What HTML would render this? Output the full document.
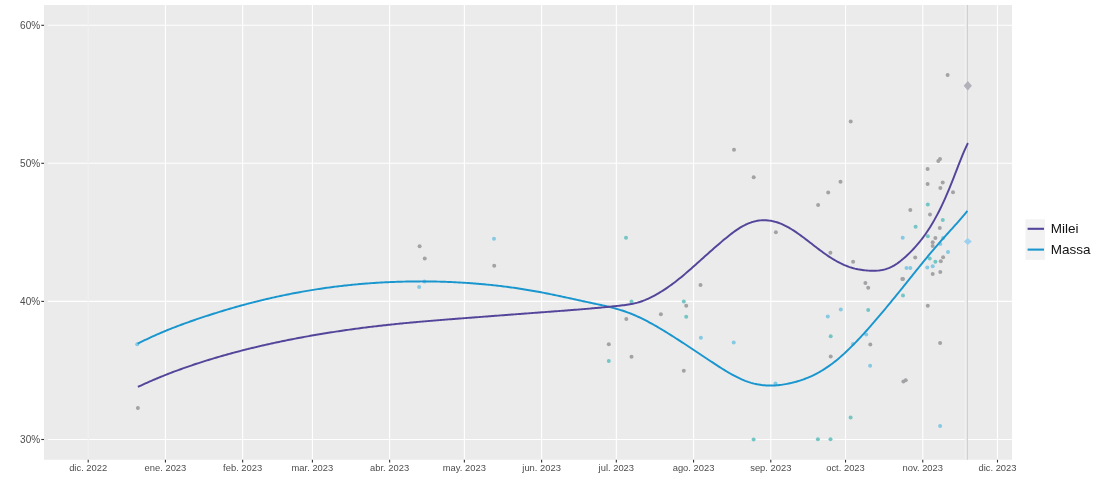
<!DOCTYPE html>
<html><head><meta charset="utf-8"><title>Milei vs Massa</title>
<style>
html,body{margin:0;padding:0;background:#fff;}
body{width:1100px;height:489px;overflow:hidden;}
svg{display:block;}
text{font-family:"Liberation Sans",Arial,sans-serif;}
</style></head><body>
<svg width="1100" height="489" viewBox="0 0 1100 489">
<rect x="0" y="0" width="1100" height="489" fill="#ffffff"/>
<rect x="44.0" y="5.0" width="968.0" height="454.8" fill="#ebebeb"/>
<g stroke="#ffffff" stroke-width="1.1"><line x1="47.8" x2="1012.0" y1="439.5" y2="439.5"/><line x1="47.8" x2="1012.0" y1="301.4" y2="301.4"/><line x1="47.8" x2="1012.0" y1="163.3" y2="163.3"/><line x1="47.8" x2="1012.0" y1="25.3" y2="25.3"/><line x1="165.43" x2="165.43" y1="5.0" y2="459.8"/><line x1="242.65" x2="242.65" y1="5.0" y2="459.8"/><line x1="312.41" x2="312.41" y1="5.0" y2="459.8"/><line x1="389.64" x2="389.64" y1="5.0" y2="459.8"/><line x1="464.37" x2="464.37" y1="5.0" y2="459.8"/><line x1="541.60" x2="541.60" y1="5.0" y2="459.8"/><line x1="616.33" x2="616.33" y1="5.0" y2="459.8"/><line x1="693.56" x2="693.56" y1="5.0" y2="459.8"/><line x1="770.79" x2="770.79" y1="5.0" y2="459.8"/><line x1="845.52" x2="845.52" y1="5.0" y2="459.8"/><line x1="922.75" x2="922.75" y1="5.0" y2="459.8"/><line x1="997.49" x2="997.49" y1="5.0" y2="459.8"/></g>
<line x1="88.2" x2="88.2" y1="5.0" y2="459.8" stroke="#f0f0f0" stroke-width="1.1"/>
<g stroke="#333333" stroke-width="1.1"><line x1="41.3" x2="44.0" y1="439.5" y2="439.5"/><line x1="41.3" x2="44.0" y1="301.4" y2="301.4"/><line x1="41.3" x2="44.0" y1="163.3" y2="163.3"/><line x1="41.3" x2="44.0" y1="25.3" y2="25.3"/><line x1="88.20" x2="88.20" y1="459.8" y2="462.5"/><line x1="165.43" x2="165.43" y1="459.8" y2="462.5"/><line x1="242.65" x2="242.65" y1="459.8" y2="462.5"/><line x1="312.41" x2="312.41" y1="459.8" y2="462.5"/><line x1="389.64" x2="389.64" y1="459.8" y2="462.5"/><line x1="464.37" x2="464.37" y1="459.8" y2="462.5"/><line x1="541.60" x2="541.60" y1="459.8" y2="462.5"/><line x1="616.33" x2="616.33" y1="459.8" y2="462.5"/><line x1="693.56" x2="693.56" y1="459.8" y2="462.5"/><line x1="770.79" x2="770.79" y1="459.8" y2="462.5"/><line x1="845.52" x2="845.52" y1="459.8" y2="462.5"/><line x1="922.75" x2="922.75" y1="459.8" y2="462.5"/><line x1="997.49" x2="997.49" y1="459.8" y2="462.5"/></g>
<g font-size="9.4" fill="#4d4d4d"><text x="40.1" y="443.10" text-anchor="end" font-size="10">30%</text><text x="40.1" y="305.00" text-anchor="end" font-size="10">40%</text><text x="40.1" y="166.90" text-anchor="end" font-size="10">50%</text><text x="40.1" y="28.90" text-anchor="end" font-size="10">60%</text><text x="88.20" y="470.9" text-anchor="middle">dic. 2022</text><text x="165.43" y="470.9" text-anchor="middle">ene. 2023</text><text x="242.65" y="470.9" text-anchor="middle">feb. 2023</text><text x="312.41" y="470.9" text-anchor="middle">mar. 2023</text><text x="389.64" y="470.9" text-anchor="middle">abr. 2023</text><text x="464.37" y="470.9" text-anchor="middle">may. 2023</text><text x="541.60" y="470.9" text-anchor="middle">jun. 2023</text><text x="616.33" y="470.9" text-anchor="middle">jul. 2023</text><text x="693.56" y="470.9" text-anchor="middle">ago. 2023</text><text x="770.79" y="470.9" text-anchor="middle">sep. 2023</text><text x="845.52" y="470.9" text-anchor="middle">oct. 2023</text><text x="922.75" y="470.9" text-anchor="middle">nov. 2023</text><text x="997.49" y="470.9" text-anchor="middle">dic. 2023</text></g>
<rect x="964.6" y="5.0" width="2" height="454.8" fill="#f0f0f0"/><line x1="967.4" x2="967.4" y1="5.0" y2="459.8" stroke="#d0d0d0" stroke-width="1.2"/>
<g><circle cx="137.9" cy="408" r="2" fill="#a3a3a6"/><circle cx="137.2" cy="344.2" r="2" fill="#86c9e2"/><circle cx="419.6" cy="246.2" r="2" fill="#a3a3a6"/><circle cx="424.75" cy="258.6" r="2" fill="#a3a3a6"/><circle cx="419.1" cy="287" r="2" fill="#86c9e2"/><circle cx="424.5" cy="281.5" r="2" fill="#86c9e2"/><circle cx="494" cy="238.8" r="2" fill="#86c9e2"/><circle cx="494.2" cy="265.7" r="2" fill="#a3a3a6"/><circle cx="631.5" cy="301.4" r="2" fill="#74c6c4"/><circle cx="626" cy="237.8" r="2" fill="#74c6c4"/><circle cx="626.3" cy="319.1" r="2" fill="#a3a3a6"/><circle cx="660.9" cy="314.3" r="2" fill="#a3a3a6"/><circle cx="608.8" cy="344.3" r="2" fill="#a3a3a6"/><circle cx="608.8" cy="360.9" r="2" fill="#74c6c4"/><circle cx="631.5" cy="356.7" r="2" fill="#a3a3a6"/><circle cx="683.8" cy="301.4" r="2" fill="#74c6c4"/><circle cx="686.2" cy="305.7" r="2" fill="#a3a3a6"/><circle cx="686.2" cy="316.7" r="2" fill="#74c6c4"/><circle cx="683.8" cy="370.7" r="2" fill="#a3a3a6"/><circle cx="775.9" cy="232.2" r="2" fill="#a3a3a6"/><circle cx="700.5" cy="285" r="2" fill="#a3a3a6"/><circle cx="700.9" cy="337.7" r="2" fill="#86c9e2"/><circle cx="733.7" cy="342.6" r="2" fill="#86c9e2"/><circle cx="775.5" cy="383.5" r="2" fill="#86c9e2"/><circle cx="734" cy="149.8" r="2" fill="#a3a3a6"/><circle cx="753.7" cy="177.3" r="2" fill="#a3a3a6"/><circle cx="850.7" cy="121.5" r="2" fill="#a3a3a6"/><circle cx="840.5" cy="181.8" r="2" fill="#a3a3a6"/><circle cx="828.2" cy="192.4" r="2" fill="#a3a3a6"/><circle cx="818.1" cy="204.9" r="2" fill="#a3a3a6"/><circle cx="830.4" cy="252.7" r="2" fill="#a3a3a6"/><circle cx="853.1" cy="261.7" r="2" fill="#a3a3a6"/><circle cx="865.4" cy="283.1" r="2" fill="#a3a3a6"/><circle cx="868.2" cy="287.7" r="2" fill="#a3a3a6"/><circle cx="902.7" cy="237.7" r="2" fill="#86c9e2"/><circle cx="906.5" cy="267.9" r="2" fill="#86c9e2"/><circle cx="910.3" cy="267.9" r="2" fill="#86c9e2"/><circle cx="903" cy="279" r="2" fill="#a3a3a6"/><circle cx="903" cy="295.5" r="2" fill="#74c6c4"/><circle cx="840.8" cy="309.5" r="2" fill="#86c9e2"/><circle cx="827.8" cy="316.4" r="2" fill="#86c9e2"/><circle cx="868.2" cy="310.1" r="2" fill="#74c6c4"/><circle cx="830.7" cy="336.2" r="2" fill="#74c6c4"/><circle cx="830.7" cy="356.5" r="2" fill="#a3a3a6"/><circle cx="853" cy="344" r="2" fill="#86c9e2"/><circle cx="866.2" cy="334.6" r="2" fill="#86c9e2"/><circle cx="870.3" cy="344.5" r="2" fill="#a3a3a6"/><circle cx="870.1" cy="365.8" r="2" fill="#86c9e2"/><circle cx="903.4" cy="381.6" r="2" fill="#a3a3a6"/><circle cx="905.7" cy="380.2" r="2" fill="#a3a3a6"/><circle cx="753.6" cy="439.6" r="2" fill="#74c6c4"/><circle cx="817.9" cy="439.2" r="2" fill="#74c6c4"/><circle cx="830.5" cy="439.2" r="2" fill="#74c6c4"/><circle cx="850.6" cy="417.6" r="2" fill="#74c6c4"/><circle cx="947.6" cy="75.1" r="2" fill="#a3a3a6"/><circle cx="938.3" cy="161.1" r="2" fill="#a3a3a6"/><circle cx="940" cy="159.1" r="2" fill="#a3a3a6"/><circle cx="927.6" cy="169" r="2" fill="#a3a3a6"/><circle cx="927.6" cy="184" r="2" fill="#a3a3a6"/><circle cx="942.7" cy="182.4" r="2" fill="#a3a3a6"/><circle cx="940.4" cy="188.1" r="2" fill="#a3a3a6"/><circle cx="953" cy="192.2" r="2" fill="#a3a3a6"/><circle cx="927.8" cy="204.6" r="2" fill="#74c6c4"/><circle cx="910.3" cy="209.9" r="2" fill="#a3a3a6"/><circle cx="930" cy="214.4" r="2" fill="#a3a3a6"/><circle cx="942.8" cy="220" r="2" fill="#74c6c4"/><circle cx="915.6" cy="226.8" r="2" fill="#74c6c4"/><circle cx="939.8" cy="228.1" r="2" fill="#a3a3a6"/><circle cx="927.8" cy="236.3" r="2" fill="#74c6c4"/><circle cx="935.4" cy="237.9" r="2" fill="#a3a3a6"/><circle cx="943.1" cy="237.9" r="2" fill="#86c9e2"/><circle cx="932.7" cy="242.2" r="2" fill="#a3a3a6"/><circle cx="932.7" cy="246.1" r="2" fill="#a3a3a6"/><circle cx="940.3" cy="244.1" r="2" fill="#86c9e2"/><circle cx="948" cy="252" r="2" fill="#86c9e2"/><circle cx="915.2" cy="257.4" r="2" fill="#a3a3a6"/><circle cx="943.1" cy="257.2" r="2" fill="#a3a3a6"/><circle cx="929.7" cy="258.5" r="2" fill="#74c6c4"/><circle cx="935.4" cy="261.8" r="2" fill="#74c6c4"/><circle cx="940.8" cy="261.3" r="2" fill="#a3a3a6"/><circle cx="927.3" cy="267.4" r="2" fill="#86c9e2"/><circle cx="932.7" cy="266.2" r="2" fill="#86c9e2"/><circle cx="932.7" cy="273.9" r="2" fill="#a3a3a6"/><circle cx="940.3" cy="271.9" r="2" fill="#a3a3a6"/><circle cx="902.3" cy="278.9" r="2" fill="#a3a3a6"/><circle cx="927.8" cy="305.7" r="2" fill="#a3a3a6"/><circle cx="940.1" cy="342.9" r="2" fill="#a3a3a6"/><circle cx="940.1" cy="426" r="2" fill="#86c9e2"/></g>
<path d="M967.8,81.0 L971.9,85.7 L967.8,90.4 L963.6999999999999,85.7 Z" fill="#b2b0b9"/><path d="M967.8,237.9 L971.8,241.5 L967.8,245.1 L963.8,241.5 Z" fill="#9bd1ee"/>
<path d="M137.65,343.72 L139.15,342.96 L140.65,342.20 L142.15,341.45 L143.65,340.71 L145.15,339.98 L146.65,339.26 L148.15,338.54 L149.65,337.84 L151.15,337.14 L152.65,336.46 L154.15,335.78 L155.65,335.11 L157.15,334.44 L158.65,333.79 L160.15,333.14 L161.65,332.50 L163.15,331.87 L164.65,331.24 L166.15,330.62 L167.65,330.01 L169.15,329.40 L170.65,328.80 L172.15,328.21 L173.65,327.62 L175.15,327.04 L176.65,326.47 L178.15,325.90 L179.65,325.33 L181.15,324.78 L182.65,324.22 L184.15,323.67 L185.65,323.13 L187.15,322.59 L188.65,322.06 L190.15,321.53 L191.65,321.00 L193.15,320.48 L194.65,319.96 L196.15,319.45 L197.65,318.94 L199.15,318.43 L200.65,317.93 L202.15,317.43 L203.65,316.93 L205.15,316.43 L206.65,315.94 L208.15,315.46 L209.65,314.97 L211.15,314.49 L212.65,314.01 L214.15,313.54 L215.65,313.06 L217.15,312.60 L218.65,312.13 L220.15,311.67 L221.65,311.21 L223.15,310.76 L224.65,310.30 L226.15,309.86 L227.65,309.41 L229.15,308.97 L230.65,308.53 L232.15,308.09 L233.65,307.66 L235.15,307.24 L236.65,306.81 L238.15,306.39 L239.65,305.97 L241.15,305.56 L242.65,305.15 L244.15,304.74 L245.65,304.33 L247.15,303.93 L248.65,303.54 L250.15,303.14 L251.65,302.75 L253.15,302.37 L254.65,301.98 L256.15,301.60 L257.65,301.23 L259.15,300.86 L260.65,300.49 L262.15,300.12 L263.65,299.76 L265.15,299.41 L266.65,299.05 L268.15,298.70 L269.65,298.35 L271.15,298.01 L272.65,297.67 L274.15,297.34 L275.65,297.00 L277.15,296.67 L278.65,296.35 L280.15,296.03 L281.65,295.71 L283.15,295.40 L284.65,295.08 L286.15,294.78 L287.65,294.47 L289.15,294.17 L290.65,293.88 L292.15,293.58 L293.65,293.30 L295.15,293.01 L296.65,292.73 L298.15,292.45 L299.65,292.17 L301.15,291.90 L302.65,291.64 L304.15,291.37 L305.65,291.11 L307.15,290.85 L308.65,290.60 L310.15,290.35 L311.65,290.10 L313.15,289.86 L314.65,289.62 L316.15,289.39 L317.65,289.15 L319.15,288.93 L320.65,288.70 L322.15,288.48 L323.65,288.26 L325.15,288.05 L326.65,287.84 L328.15,287.63 L329.65,287.43 L331.15,287.23 L332.65,287.03 L334.15,286.84 L335.65,286.65 L337.15,286.46 L338.65,286.28 L340.15,286.10 L341.65,285.92 L343.15,285.75 L344.65,285.58 L346.15,285.42 L347.65,285.26 L349.15,285.10 L350.65,284.94 L352.15,284.79 L353.65,284.65 L355.15,284.50 L356.65,284.36 L358.15,284.22 L359.65,284.09 L361.15,283.96 L362.65,283.83 L364.15,283.71 L365.65,283.59 L367.15,283.47 L368.65,283.35 L370.15,283.24 L371.65,283.14 L373.15,283.03 L374.65,282.93 L376.15,282.83 L377.65,282.74 L379.15,282.65 L380.65,282.56 L382.15,282.48 L383.65,282.40 L385.15,282.32 L386.65,282.24 L388.15,282.17 L389.65,282.10 L391.15,282.04 L392.65,281.98 L394.15,281.92 L395.65,281.86 L397.15,281.81 L398.65,281.76 L400.15,281.72 L401.65,281.67 L403.15,281.63 L404.65,281.60 L406.15,281.56 L407.65,281.53 L409.15,281.51 L410.65,281.48 L412.15,281.46 L413.65,281.44 L415.15,281.43 L416.65,281.42 L418.15,281.41 L419.65,281.41 L421.15,281.40 L422.65,281.41 L424.15,281.41 L425.65,281.42 L427.15,281.43 L428.65,281.45 L430.15,281.46 L431.65,281.49 L433.15,281.51 L434.65,281.54 L436.15,281.57 L437.65,281.60 L439.15,281.64 L440.65,281.68 L442.15,281.73 L443.65,281.77 L445.15,281.82 L446.65,281.88 L448.15,281.93 L449.65,282.00 L451.15,282.06 L452.65,282.13 L454.15,282.20 L455.65,282.27 L457.15,282.35 L458.65,282.43 L460.15,282.51 L461.65,282.60 L463.15,282.69 L464.65,282.78 L466.15,282.88 L467.65,282.98 L469.15,283.09 L470.65,283.19 L472.15,283.30 L473.65,283.42 L475.15,283.54 L476.65,283.66 L478.15,283.78 L479.65,283.91 L481.15,284.04 L482.65,284.18 L484.15,284.32 L485.65,284.46 L487.15,284.60 L488.65,284.75 L490.15,284.90 L491.65,285.06 L493.15,285.22 L494.65,285.38 L496.15,285.55 L497.65,285.72 L499.15,285.90 L500.65,286.07 L502.15,286.26 L503.65,286.44 L505.15,286.63 L506.65,286.82 L508.15,287.02 L509.65,287.22 L511.15,287.42 L512.65,287.63 L514.15,287.84 L515.65,288.06 L517.15,288.28 L518.65,288.50 L520.15,288.73 L521.65,288.96 L523.15,289.20 L524.65,289.43 L526.15,289.68 L527.65,289.92 L529.15,290.17 L530.65,290.43 L532.15,290.69 L533.65,290.95 L535.15,291.22 L536.65,291.49 L538.15,291.76 L539.65,292.04 L541.15,292.32 L542.65,292.61 L544.15,292.90 L545.65,293.20 L547.15,293.49 L548.65,293.79 L550.15,294.10 L551.65,294.40 L553.15,294.71 L554.65,295.03 L556.15,295.34 L557.65,295.66 L559.15,295.98 L560.65,296.30 L562.15,296.62 L563.65,296.94 L565.15,297.27 L566.65,297.59 L568.15,297.92 L569.65,298.25 L571.15,298.57 L572.65,298.90 L574.15,299.23 L575.65,299.56 L577.15,299.89 L578.65,300.22 L580.15,300.55 L581.65,300.87 L583.15,301.20 L584.65,301.52 L586.15,301.85 L587.65,302.17 L589.15,302.49 L590.65,302.81 L592.15,303.13 L593.65,303.45 L595.15,303.77 L596.65,304.09 L598.15,304.41 L599.65,304.73 L601.15,305.06 L602.65,305.39 L604.15,305.73 L605.65,306.07 L607.15,306.43 L608.65,306.79 L610.15,307.15 L611.65,307.53 L613.15,307.92 L614.65,308.32 L616.15,308.74 L617.65,309.17 L619.15,309.61 L620.65,310.07 L622.15,310.54 L623.65,311.03 L625.15,311.54 L626.65,312.06 L628.15,312.61 L629.65,313.17 L631.15,313.76 L632.65,314.37 L634.15,315.00 L635.65,315.65 L637.15,316.32 L638.65,317.00 L640.15,317.71 L641.65,318.43 L643.15,319.17 L644.65,319.92 L646.15,320.69 L647.65,321.48 L649.15,322.28 L650.65,323.09 L652.15,323.92 L653.65,324.76 L655.15,325.61 L656.65,326.47 L658.15,327.35 L659.65,328.23 L661.15,329.12 L662.65,330.03 L664.15,330.94 L665.65,331.85 L667.15,332.78 L668.65,333.71 L670.15,334.65 L671.65,335.59 L673.15,336.54 L674.65,337.49 L676.15,338.45 L677.65,339.41 L679.15,340.38 L680.65,341.35 L682.15,342.32 L683.65,343.30 L685.15,344.28 L686.65,345.26 L688.15,346.24 L689.65,347.23 L691.15,348.22 L692.65,349.21 L694.15,350.21 L695.65,351.20 L697.15,352.20 L698.65,353.20 L700.15,354.20 L701.65,355.19 L703.15,356.19 L704.65,357.19 L706.15,358.19 L707.65,359.19 L709.15,360.19 L710.65,361.19 L712.15,362.18 L713.65,363.17 L715.15,364.16 L716.65,365.14 L718.15,366.12 L719.65,367.08 L721.15,368.04 L722.65,368.98 L724.15,369.92 L725.65,370.83 L727.15,371.73 L728.65,372.62 L730.15,373.48 L731.65,374.33 L733.15,375.15 L734.65,375.96 L736.15,376.73 L737.65,377.48 L739.15,378.21 L740.65,378.90 L742.15,379.57 L743.65,380.21 L745.15,380.81 L746.65,381.37 L748.15,381.91 L749.65,382.40 L751.15,382.86 L752.65,383.28 L754.15,383.66 L755.65,384.00 L757.15,384.31 L758.65,384.58 L760.15,384.82 L761.65,385.03 L763.15,385.19 L764.65,385.33 L766.15,385.44 L767.65,385.51 L769.15,385.55 L770.65,385.56 L772.15,385.54 L773.65,385.50 L775.15,385.42 L776.65,385.32 L778.15,385.19 L779.65,385.03 L781.15,384.85 L782.65,384.64 L784.15,384.41 L785.65,384.16 L787.15,383.88 L788.65,383.58 L790.15,383.26 L791.65,382.91 L793.15,382.55 L794.65,382.16 L796.15,381.75 L797.65,381.31 L799.15,380.86 L800.65,380.38 L802.15,379.87 L803.65,379.34 L805.15,378.78 L806.65,378.19 L808.15,377.58 L809.65,376.94 L811.15,376.27 L812.65,375.58 L814.15,374.85 L815.65,374.10 L817.15,373.31 L818.65,372.50 L820.15,371.65 L821.65,370.77 L823.15,369.86 L824.65,368.92 L826.15,367.94 L827.65,366.93 L829.15,365.88 L830.65,364.80 L832.15,363.69 L833.65,362.54 L835.15,361.36 L836.65,360.14 L838.15,358.90 L839.65,357.62 L841.15,356.32 L842.65,354.98 L844.15,353.62 L845.65,352.23 L847.15,350.82 L848.65,349.38 L850.15,347.92 L851.65,346.43 L853.15,344.92 L854.65,343.39 L856.15,341.84 L857.65,340.27 L859.15,338.68 L860.65,337.07 L862.15,335.44 L863.65,333.80 L865.15,332.15 L866.65,330.48 L868.15,328.79 L869.65,327.09 L871.15,325.39 L872.65,323.67 L874.15,321.94 L875.65,320.20 L877.15,318.44 L878.65,316.68 L880.15,314.91 L881.65,313.14 L883.15,311.35 L884.65,309.55 L886.15,307.75 L887.65,305.94 L889.15,304.13 L890.65,302.30 L892.15,300.47 L893.65,298.64 L895.15,296.80 L896.65,294.96 L898.15,293.11 L899.65,291.26 L901.15,289.40 L902.65,287.54 L904.15,285.68 L905.65,283.81 L907.15,281.95 L908.65,280.08 L910.15,278.21 L911.65,276.34 L913.15,274.47 L914.65,272.60 L916.15,270.73 L917.65,268.87 L919.15,267.01 L920.65,265.15 L922.15,263.30 L923.65,261.46 L925.15,259.62 L926.65,257.79 L928.15,255.97 L929.65,254.17 L931.15,252.37 L932.65,250.58 L934.15,248.81 L935.65,247.05 L937.15,245.31 L938.65,243.58 L940.15,241.87 L941.65,240.17 L943.15,238.49 L944.65,236.82 L946.15,235.16 L947.65,233.50 L949.15,231.85 L950.65,230.20 L952.15,228.54 L953.65,226.88 L955.15,225.22 L956.65,223.54 L958.15,221.84 L959.65,220.13 L961.15,218.41 L962.65,216.66 L964.15,214.88 L965.65,213.08 L967.15,211.24 L967.40,210.93" fill="none" stroke="#1996ce" stroke-width="1.95" stroke-linejoin="round" stroke-linecap="butt"/>
<path d="M137.90,386.92 L139.40,386.21 L140.90,385.51 L142.40,384.82 L143.90,384.14 L145.40,383.46 L146.90,382.78 L148.40,382.12 L149.90,381.46 L151.40,380.81 L152.90,380.16 L154.40,379.52 L155.90,378.88 L157.40,378.25 L158.90,377.63 L160.40,377.01 L161.90,376.40 L163.40,375.80 L164.90,375.20 L166.40,374.60 L167.90,374.01 L169.40,373.43 L170.90,372.85 L172.40,372.28 L173.90,371.71 L175.40,371.15 L176.90,370.60 L178.40,370.04 L179.90,369.50 L181.40,368.96 L182.90,368.42 L184.40,367.89 L185.90,367.36 L187.40,366.84 L188.90,366.32 L190.40,365.81 L191.90,365.30 L193.40,364.79 L194.90,364.29 L196.40,363.80 L197.90,363.30 L199.40,362.82 L200.90,362.33 L202.40,361.85 L203.90,361.38 L205.40,360.91 L206.90,360.44 L208.40,359.97 L209.90,359.51 L211.40,359.06 L212.90,358.61 L214.40,358.16 L215.90,357.71 L217.40,357.27 L218.90,356.83 L220.40,356.40 L221.90,355.97 L223.40,355.54 L224.90,355.12 L226.40,354.70 L227.90,354.28 L229.40,353.87 L230.90,353.46 L232.40,353.05 L233.90,352.65 L235.40,352.25 L236.90,351.85 L238.40,351.46 L239.90,351.07 L241.40,350.68 L242.90,350.30 L244.40,349.91 L245.90,349.54 L247.40,349.16 L248.90,348.79 L250.40,348.42 L251.90,348.05 L253.40,347.69 L254.90,347.33 L256.40,346.97 L257.90,346.62 L259.40,346.27 L260.90,345.92 L262.40,345.57 L263.90,345.23 L265.40,344.88 L266.90,344.54 L268.40,344.21 L269.90,343.88 L271.40,343.54 L272.90,343.22 L274.40,342.89 L275.90,342.57 L277.40,342.25 L278.90,341.93 L280.40,341.61 L281.90,341.30 L283.40,340.99 L284.90,340.68 L286.40,340.38 L287.90,340.07 L289.40,339.77 L290.90,339.48 L292.40,339.18 L293.90,338.89 L295.40,338.60 L296.90,338.31 L298.40,338.02 L299.90,337.74 L301.40,337.46 L302.90,337.18 L304.40,336.90 L305.90,336.63 L307.40,336.36 L308.90,336.09 L310.40,335.82 L311.90,335.56 L313.40,335.29 L314.90,335.03 L316.40,334.78 L317.90,334.52 L319.40,334.27 L320.90,334.02 L322.40,333.77 L323.90,333.52 L325.40,333.28 L326.90,333.03 L328.40,332.79 L329.90,332.56 L331.40,332.32 L332.90,332.09 L334.40,331.85 L335.90,331.62 L337.40,331.40 L338.90,331.17 L340.40,330.95 L341.90,330.73 L343.40,330.51 L344.90,330.29 L346.40,330.08 L347.90,329.86 L349.40,329.65 L350.90,329.44 L352.40,329.24 L353.90,329.03 L355.40,328.83 L356.90,328.63 L358.40,328.43 L359.90,328.23 L361.40,328.04 L362.90,327.84 L364.40,327.65 L365.90,327.46 L367.40,327.27 L368.90,327.09 L370.40,326.90 L371.90,326.72 L373.40,326.54 L374.90,326.36 L376.40,326.18 L377.90,326.01 L379.40,325.83 L380.90,325.66 L382.40,325.49 L383.90,325.32 L385.40,325.16 L386.90,324.99 L388.40,324.83 L389.90,324.67 L391.40,324.51 L392.90,324.35 L394.40,324.19 L395.90,324.04 L397.40,323.88 L398.90,323.73 L400.40,323.58 L401.90,323.43 L403.40,323.28 L404.90,323.14 L406.40,322.99 L407.90,322.85 L409.40,322.71 L410.90,322.57 L412.40,322.43 L413.90,322.29 L415.40,322.16 L416.90,322.02 L418.40,321.89 L419.90,321.75 L421.40,321.62 L422.90,321.49 L424.40,321.36 L425.90,321.23 L427.40,321.10 L428.90,320.98 L430.40,320.85 L431.90,320.73 L433.40,320.60 L434.90,320.48 L436.40,320.36 L437.90,320.23 L439.40,320.11 L440.90,319.99 L442.40,319.87 L443.90,319.75 L445.40,319.63 L446.90,319.52 L448.40,319.40 L449.90,319.28 L451.40,319.16 L452.90,319.05 L454.40,318.93 L455.90,318.82 L457.40,318.70 L458.90,318.59 L460.40,318.47 L461.90,318.36 L463.40,318.24 L464.90,318.13 L466.40,318.01 L467.90,317.90 L469.40,317.78 L470.90,317.67 L472.40,317.56 L473.90,317.44 L475.40,317.33 L476.90,317.21 L478.40,317.10 L479.90,316.99 L481.40,316.87 L482.90,316.76 L484.40,316.64 L485.90,316.53 L487.40,316.41 L488.90,316.30 L490.40,316.19 L491.90,316.07 L493.40,315.96 L494.90,315.84 L496.40,315.73 L497.90,315.62 L499.40,315.50 L500.90,315.39 L502.40,315.27 L503.90,315.16 L505.40,315.05 L506.90,314.93 L508.40,314.82 L509.90,314.71 L511.40,314.59 L512.90,314.48 L514.40,314.37 L515.90,314.25 L517.40,314.14 L518.90,314.03 L520.40,313.91 L521.90,313.80 L523.40,313.69 L524.90,313.57 L526.40,313.46 L527.90,313.35 L529.40,313.24 L530.90,313.12 L532.40,313.01 L533.90,312.90 L535.40,312.79 L536.90,312.68 L538.40,312.57 L539.90,312.45 L541.40,312.34 L542.90,312.23 L544.40,312.12 L545.90,312.01 L547.40,311.90 L548.90,311.79 L550.40,311.67 L551.90,311.56 L553.40,311.45 L554.90,311.34 L556.40,311.23 L557.90,311.11 L559.40,311.00 L560.90,310.89 L562.40,310.77 L563.90,310.66 L565.40,310.55 L566.90,310.43 L568.40,310.31 L569.90,310.20 L571.40,310.08 L572.90,309.96 L574.40,309.84 L575.90,309.72 L577.40,309.60 L578.90,309.48 L580.40,309.36 L581.90,309.24 L583.40,309.11 L584.90,308.99 L586.40,308.86 L587.90,308.73 L589.40,308.60 L590.90,308.47 L592.40,308.34 L593.90,308.21 L595.40,308.07 L596.90,307.94 L598.40,307.80 L599.90,307.66 L601.40,307.52 L602.90,307.38 L604.40,307.23 L605.90,307.09 L607.40,306.94 L608.90,306.79 L610.40,306.64 L611.90,306.49 L613.40,306.33 L614.90,306.17 L616.40,306.01 L617.90,305.85 L619.40,305.68 L620.90,305.51 L622.40,305.34 L623.90,305.16 L625.40,304.97 L626.90,304.77 L628.40,304.54 L629.90,304.30 L631.40,304.03 L632.90,303.74 L634.40,303.41 L635.90,303.06 L637.40,302.66 L638.90,302.22 L640.40,301.75 L641.90,301.23 L643.40,300.68 L644.90,300.09 L646.40,299.46 L647.90,298.80 L649.40,298.11 L650.90,297.38 L652.40,296.63 L653.90,295.85 L655.40,295.03 L656.90,294.20 L658.40,293.33 L659.90,292.44 L661.40,291.52 L662.90,290.58 L664.40,289.62 L665.90,288.62 L667.40,287.61 L668.90,286.56 L670.40,285.50 L671.90,284.41 L673.40,283.29 L674.90,282.16 L676.40,280.99 L677.90,279.81 L679.40,278.61 L680.90,277.39 L682.40,276.14 L683.90,274.89 L685.40,273.62 L686.90,272.33 L688.40,271.03 L689.90,269.72 L691.40,268.40 L692.90,267.08 L694.40,265.74 L695.90,264.41 L697.40,263.06 L698.90,261.72 L700.40,260.37 L701.90,259.02 L703.40,257.68 L704.90,256.33 L706.40,254.99 L707.90,253.65 L709.40,252.32 L710.90,250.98 L712.40,249.66 L713.90,248.34 L715.40,247.03 L716.90,245.73 L718.40,244.44 L719.90,243.15 L721.40,241.88 L722.90,240.62 L724.40,239.37 L725.90,238.13 L727.40,236.91 L728.90,235.71 L730.40,234.53 L731.90,233.38 L733.40,232.26 L734.90,231.16 L736.40,230.11 L737.90,229.10 L739.40,228.13 L740.90,227.20 L742.40,226.33 L743.90,225.51 L745.40,224.75 L746.90,224.05 L748.40,223.41 L749.90,222.82 L751.40,222.30 L752.90,221.84 L754.40,221.43 L755.90,221.09 L757.40,220.80 L758.90,220.57 L760.40,220.40 L761.90,220.29 L763.40,220.24 L764.90,220.24 L766.40,220.30 L767.90,220.42 L769.40,220.60 L770.90,220.83 L772.40,221.12 L773.90,221.46 L775.40,221.85 L776.90,222.29 L778.40,222.79 L779.90,223.34 L781.40,223.94 L782.90,224.59 L784.40,225.29 L785.90,226.04 L787.40,226.83 L788.90,227.67 L790.40,228.54 L791.90,229.46 L793.40,230.41 L794.90,231.39 L796.40,232.41 L797.90,233.45 L799.40,234.51 L800.90,235.60 L802.40,236.71 L803.90,237.83 L805.40,238.97 L806.90,240.11 L808.40,241.27 L809.90,242.43 L811.40,243.59 L812.90,244.75 L814.40,245.91 L815.90,247.07 L817.40,248.21 L818.90,249.35 L820.40,250.48 L821.90,251.59 L823.40,252.68 L824.90,253.76 L826.40,254.81 L827.90,255.83 L829.40,256.83 L830.90,257.80 L832.40,258.74 L833.90,259.65 L835.40,260.52 L836.90,261.37 L838.40,262.17 L839.90,262.95 L841.40,263.68 L842.90,264.38 L844.40,265.05 L845.90,265.67 L847.40,266.26 L848.90,266.81 L850.40,267.31 L851.90,267.78 L853.40,268.21 L854.90,268.60 L856.40,268.95 L857.90,269.27 L859.40,269.55 L860.90,269.80 L862.40,270.02 L863.90,270.21 L865.40,270.37 L866.90,270.50 L868.40,270.60 L869.90,270.68 L871.40,270.74 L872.90,270.76 L874.40,270.75 L875.90,270.71 L877.40,270.62 L878.90,270.48 L880.40,270.30 L881.90,270.06 L883.40,269.75 L884.90,269.39 L886.40,268.95 L887.90,268.44 L889.40,267.85 L890.90,267.18 L892.40,266.43 L893.90,265.59 L895.40,264.68 L896.90,263.70 L898.40,262.64 L899.90,261.52 L901.40,260.34 L902.90,259.10 L904.40,257.80 L905.90,256.44 L907.40,255.04 L908.90,253.59 L910.40,252.10 L911.90,250.56 L913.40,248.98 L914.90,247.34 L916.40,245.66 L917.90,243.91 L919.40,242.11 L920.90,240.24 L922.40,238.30 L923.90,236.28 L925.40,234.20 L926.90,232.03 L928.40,229.77 L929.90,227.43 L931.40,225.00 L932.90,222.48 L934.40,219.86 L935.90,217.14 L937.40,214.34 L938.90,211.44 L940.40,208.44 L941.90,205.34 L943.40,202.15 L944.90,198.86 L946.40,195.47 L947.90,191.98 L949.40,188.39 L950.90,184.70 L952.40,180.93 L953.90,177.09 L955.40,173.22 L956.90,169.34 L958.40,165.47 L959.90,161.65 L961.40,157.89 L962.90,154.23 L964.40,150.68 L965.90,147.28 L967.40,144.04 L967.90,143.00" fill="none" stroke="#54459a" stroke-width="1.95" stroke-linejoin="round" stroke-linecap="butt"/>
<rect x="1025.5" y="219.3" width="19.5" height="40.5" fill="#f2f2f2"/>
<line x1="1027.6" x2="1044" y1="228.8" y2="228.8" stroke="#54459a" stroke-width="2.1"/>
<line x1="1027.6" x2="1044" y1="249.6" y2="249.6" stroke="#1996ce" stroke-width="2.1"/>
<g font-size="13.5" fill="#111111">
<text x="1050.8" y="233.4">Milei</text>
<text x="1050.8" y="253.9">Massa</text>
</g>
</svg>
</body></html>
